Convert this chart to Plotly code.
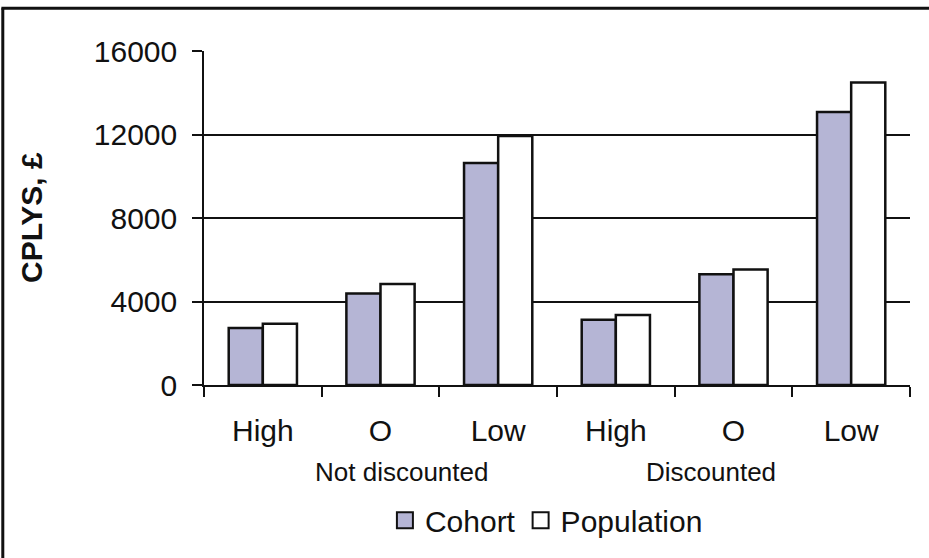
import plotly.graph_objects as go

# ---- data ----
cat_ids = ["ND-High", "ND-O", "ND-Low", "D-High", "D-O", "D-Low"]
cat_labels = ["High", "O", "Low", "High", "O", "Low"]
group_labels = ["Not discounted", "Discounted"]
cohort = [2730, 4380, 10640, 3130, 5300, 13080]
population = [2940, 4840, 11930, 3350, 5530, 14490]
y_ticks = [0, 4000, 8000, 12000, 16000]
y_tick_text = ["0", "4000", "8000", "12000", "16000"]

FONT = "Arial, Liberation Sans, sans-serif"
COHORT_COLOR = "#b5b5d5"

fig = go.Figure()
fig.add_trace(go.Bar(x=cat_ids, y=cohort, name="Cohort", showlegend=False,
                     marker=dict(color=COHORT_COLOR, line=dict(color="#111", width=2.5))))
fig.add_trace(go.Bar(x=cat_ids, y=population, name="Population", showlegend=False,
                     marker=dict(color="white", line=dict(color="#111", width=2.5))))
# legend proxies (bigger square symbols)
fig.add_trace(go.Scatter(x=[None], y=[None], mode="markers", name="Cohort",
                         marker=dict(symbol="square", size=16, color=COHORT_COLOR,
                                     line=dict(color="#111", width=2))))
fig.add_trace(go.Scatter(x=[None], y=[None], mode="markers", name="Population",
                         marker=dict(symbol="square", size=16, color="white",
                                     line=dict(color="#111", width=2))))

# group labels under the category labels
for gx, txt in zip([1.18, 3.81], group_labels):
    fig.add_annotation(x=gx, xref="x", y=-0.26, yref="paper", text=txt,
                       showarrow=False, font=dict(family=FONT, size=26, color="#111"),
                       xanchor="center", yanchor="middle")

# y-axis title
fig.add_annotation(x=-0.245, xref="paper", y=0.50, yref="paper", text="<b>CPLYS, £</b>",
                   textangle=-90, showarrow=False,
                   font=dict(family=FONT, size=30, color="#111"),
                   xanchor="center", yanchor="middle")

# scanned page frame (top and left border lines)
fig.add_shape(type="line", xref="paper", yref="paper", x0=-0.287, x1=1.03, y0=1.128, y1=1.128,
              line=dict(color="#111", width=3))
fig.add_shape(type="line", xref="paper", yref="paper", x0=-0.285, x1=-0.285, y0=1.128, y1=-0.53,
              line=dict(color="#111", width=3))

fig.update_layout(
    width=929, height=558,
    margin=dict(l=204, r=19, t=51, b=173),
    paper_bgcolor="white", plot_bgcolor="white",
    barmode="group", bargap=0.42, bargroupgap=0,
    font=dict(family=FONT, size=30, color="#111"),
    showlegend=True,
    legend=dict(orientation="h", x=0.485, xanchor="center", y=-0.405, yanchor="middle",
                font=dict(family=FONT, size=30, color="#111"), bgcolor="rgba(0,0,0,0)"),
    xaxis=dict(type="category", categoryorder="array", categoryarray=cat_ids,
               tickmode="array", tickvals=cat_ids, ticktext=cat_labels,
               tickson="boundaries", ticks="outside", ticklen=10, tickwidth=1.5,
               tickcolor="#111", showline=True, linecolor="#111", linewidth=1.5,
               showgrid=False, zeroline=False, ticklabelstandoff=18,
               tickfont=dict(family=FONT, size=30, color="#111")),
    yaxis=dict(range=[0, 16000], tickmode="array", tickvals=y_ticks, ticktext=y_tick_text,
               ticks="outside", ticklen=10, tickwidth=1.5, tickcolor="#111",
               showline=True, linecolor="#111", linewidth=1.5,
               showgrid=True, gridcolor="#111", gridwidth=1.5, zeroline=False,
               ticklabelstandoff=9,
               tickfont=dict(family=FONT, size=30, color="#111")),
)

fig.write_html("out.html")
